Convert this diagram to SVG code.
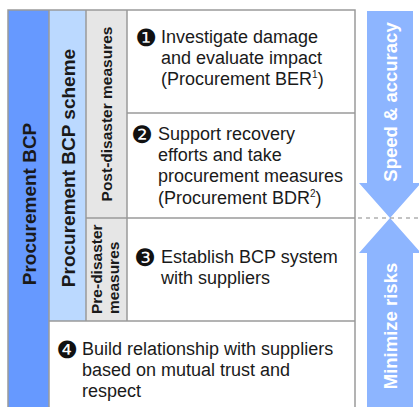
<svg xmlns="http://www.w3.org/2000/svg" width="419" height="407" viewBox="0 0 419 407">
<style>
.ln{stroke:#9a9a9a;stroke-width:1.5;fill:none}
.t{font-family:"Liberation Sans",Arial,sans-serif;font-size:18px;fill:#1a1a1a}
.n{font-family:"DejaVu Sans",sans-serif;font-size:24px;fill:#111;text-anchor:middle}
.vb{font-family:"Liberation Sans",Arial,sans-serif;font-weight:bold;fill:#1a1a1a}
.aw{font-family:"Liberation Sans",Arial,sans-serif;font-weight:bold;font-size:18.5px;fill:#fff}
.arr{fill:#8db5ff}
</style>
<rect width="419" height="407" fill="#fff"/>
<g id="col-bcp">
<rect x="8" y="10" width="41" height="397" fill="#6699ff"/>
<text class="vb" font-size="19" text-anchor="middle" transform="translate(35.5,204) rotate(-90)">Procurement BCP</text>
</g>
<g id="col-scheme">
<rect x="49" y="10" width="37" height="311" fill="#bbd9ff"/>
<text class="vb" font-size="19" text-anchor="middle" transform="translate(75,168) rotate(-90)">Procurement BCP scheme</text>
</g>
<g id="post-disaster">
<rect x="86" y="10" width="41" height="208" fill="#e6e6e6"/>
<text class="vb" font-size="15.5" text-anchor="middle" transform="translate(112,114) rotate(-90)">Post-disaster measures</text>
</g>
<g id="pre-disaster">
<rect x="86" y="218" width="41" height="103" fill="#e6e6e6"/>
<text class="vb" font-size="15.5" transform="translate(102,314) rotate(-90)">Pre-disaster</text>
<text class="vb" font-size="15.5" transform="translate(118.5,314) rotate(-90)">measures</text>
</g>
<g id="step1">
<text class="n" x="146" y="46">❶</text>
<text class="t" x="161" y="43">Investigate damage</text>
<text class="t" x="161" y="64">and evaluate impact</text>
<text class="t" x="161" y="85">(Procurement BER<tspan font-size="10" dy="-7">1</tspan><tspan dy="7">)</tspan></text>
</g>
<g id="step2">
<text class="n" x="142" y="143">❷</text>
<text class="t" x="158" y="140">Support recovery</text>
<text class="t" x="158" y="161">efforts and take</text>
<text class="t" x="158" y="182">procurement measures</text>
<text class="t" x="158" y="204">(Procurement BDR<tspan font-size="10" dy="-7">2</tspan><tspan dy="7">)</tspan></text>
</g>
<g id="step3">
<text class="n" x="145" y="266">❸</text>
<text class="t" x="161" y="263">Establish BCP system</text>
<text class="t" x="161" y="284">with suppliers</text>
</g>
<g id="step4">
<text class="n" x="67" y="358">❹</text>
<text class="t" x="82" y="355">Build relationship with suppliers</text>
<text class="t" x="82" y="376">based on mutual trust and</text>
<text class="t" x="82" y="397">respect</text>
</g>
<g id="grid">
<path class="ln" d="M8,407V10H355V407M49,10V407M86,10V321M127,10V321M127,113H355M86,218H355M49,321H355"/>
</g>
<g id="arrow-speed">
<polygon class="arr" points="367,11 413,11 413,183 421,183 390,218 359,183 367,183"/>
<text class="aw" text-anchor="middle" transform="translate(396.5,102) rotate(-90)">Speed &amp; accuracy</text>
</g>
<g id="arrow-risk">
<polygon class="arr" points="390,218 421,253 413,253 413,407 367,407 367,253 359,253"/>
<text class="aw" text-anchor="middle" transform="translate(396.5,326) rotate(-90)">Minimize risks</text>
</g>
<g id="connectors">
<line x1="358" y1="218" x2="419" y2="218" stroke="#888" stroke-width="1.2" stroke-dasharray="4,4"/>
</g>
</svg>
